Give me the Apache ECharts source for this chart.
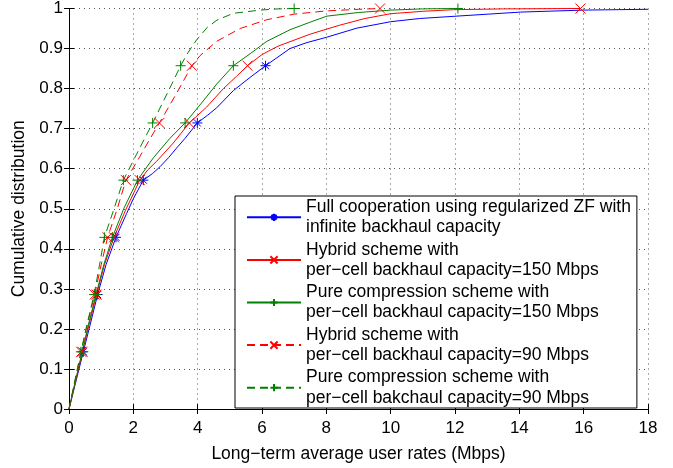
<!DOCTYPE html>
<html>
<head>
<meta charset="utf-8">
<script src="https://cdn.jsdelivr.net/npm/echarts@6/dist/echarts.min.js"></script>
<style>
  html, body { margin: 0; padding: 0; background: #fff; }
  #container { width: 673px; height: 468px; }
</style>
</head>
<body>
<div id="container"></div>
<script>
var seriesNames = [
  'Full cooperation using regularized ZF with\ninfinite backhaul capacity',
  'Hybrid scheme with\nper\u2212cell backhaul capacity=150 Mbps',
  'Pure compression scheme with\nper\u2212cell backhaul capacity=150 Mbps',
  'Hybrid scheme with\nper\u2212cell backhaul capacity=90 Mbps',
  'Pure compression scheme with\nper\u2212cell bakchaul capacity=90 Mbps'
];

// CDF levels where the markers sit
var markLevels = [1 / 7, 2 / 7, 3 / 7, 4 / 7, 5 / 7, 6 / 7, 1];

// curve points [rate, cdf]
var fullCoop = [[0, 0], [0.2, 0.064], [0.65, 0.208], [1.15, 0.36], [1.79, 0.488], [2.0, 0.525], [2.6, 0.588], [2.83, 0.605], [3.1, 0.628], [3.35, 0.652], [3.6, 0.675], [4.3, 0.733], [4.59, 0.752], [5.11, 0.795], [5.63, 0.828], [6.87, 0.9], [7.4, 0.915], [8.0, 0.928], [8.95, 0.951], [10.0, 0.967], [10.9, 0.975], [12.06, 0.981], [14.03, 0.991], [16.0, 0.996], [18, 0.998]];
var fullCoopMarks = [0.445, 0.89, 1.46, 2.31, 3.99, 6.11];

var hybrid150 = [[0, 0], [0.2, 0.068], [0.62, 0.21], [1.1, 0.36], [1.75, 0.495], [2.45, 0.597], [2.73, 0.619], [3.24, 0.664], [4.28, 0.754], [4.8, 0.8], [5.2, 0.83], [6.0, 0.885], [6.5, 0.906], [7.5, 0.936], [8.4, 0.958], [9.2, 0.975], [10.0, 0.987], [11.0, 0.993], [11.95, 0.997], [13.5, 0.999]];
var hybrid150Marks = [0.42, 0.86, 1.4, 2.2, 3.74, 5.55, 15.9];

var compress150 = [[0, 0], [0.2, 0.07], [0.6, 0.21], [1.08, 0.36], [1.7, 0.5], [2.62, 0.627], [3.14, 0.676], [4.1, 0.762], [4.6, 0.812], [5.63, 0.887], [6.15, 0.918], [6.87, 0.947], [7.5, 0.966], [8.02, 0.981], [9.0, 0.99], [10.0, 0.996], [11.0, 0.999]];
var compress150Marks = [0.41, 0.84, 1.35, 2.13, 3.61, 5.11, 12.09];

var hybrid90 = [[0, 0], [0.18, 0.068], [0.58, 0.215], [1.0, 0.36], [1.5, 0.5], [2.2, 0.63], [2.5, 0.672], [3.3, 0.782], [4.07, 0.882], [4.59, 0.918], [5.32, 0.95], [6.15, 0.972], [7.0, 0.986], [8.0, 0.994], [9.0, 0.998]];
var hybrid90Marks = [0.38, 0.8, 1.2, 1.77, 2.81, 3.82, 9.67];

var compress90 = [[0, 0], [0.18, 0.07], [0.57, 0.215], [0.95, 0.36], [1.4, 0.5], [2.1, 0.636], [2.9, 0.763], [3.2, 0.812], [3.7, 0.89], [3.97, 0.922], [4.3, 0.953], [4.6, 0.971], [5.11, 0.988], [5.94, 0.996], [6.5, 0.999]];
var compress90Marks = [0.37, 0.78, 1.1, 1.69, 2.6, 3.47, 7.0];

var STAR = 'path://M0,-1L0,1M-1,0L1,0M-0.7,-0.7L0.7,0.7M-0.7,0.7L0.7,-0.7';
var CROSS = 'path://M-1,-1L1,1M-1,1L1,-1';
var PLUS = 'path://M0,-1L0,1M-1,0L1,0';

function buildData(line, marks) {
  var items = line.map(function (p) { return { value: p, symbol: 'none' }; });
  marks.forEach(function (x, i) { items.push({ value: [x, markLevels[i]] }); });
  items.sort(function (a, b) { return a.value[0] - b.value[0]; });
  return items;
}

function makeSeries(name, line, marks, color, symbol, dashed) {
  return {
    name: name,
    type: 'line',
    data: buildData(line, marks),
    symbol: symbol,
    symbolSize: 10,
    showAllSymbol: true,
    lineStyle: { color: color, width: 1, type: dashed ? [8, 5] : 'solid' },
    itemStyle: { color: color, borderColor: color, borderWidth: 1 },
    emphasis: { disabled: true },
    animation: false
  };
}

var font = 'Liberation Sans, Arial, sans-serif';
var dom = document.getElementById('container');
var myChart = echarts.init(dom, null, { renderer: 'canvas' });

var option = {
  backgroundColor: '#fff',
  textStyle: { fontFamily: font },
  grid: { left: 69, right: 25, top: 8, bottom: 53 },
  legend: {
    orient: 'vertical',
    left: 235,
    top: 196,
    padding: [1, 6, 0, 11],
    itemGap: 2,
    itemWidth: 54,
    itemHeight: 9,
    backgroundColor: '#fff',
    borderColor: '#000',
    borderWidth: 1,
    textStyle: { fontSize: 17.5, lineHeight: 20.3, color: '#000', fontFamily: font },
    data: seriesNames
  },
  xAxis: [{
    type: 'value', min: 0, max: 18, interval: 2,
    name: 'Long\u2212term average user rates (Mbps)',
    nameLocation: 'middle', nameGap: 36,
    nameTextStyle: { fontSize: 17.5, color: '#000', fontFamily: font },
    axisLine: { lineStyle: { color: '#000', width: 1 } },
    axisTick: { inside: true, length: 5, lineStyle: { color: '#000' } },
    axisLabel: { color: '#000', fontSize: 17, margin: 11, fontFamily: font },
    splitLine: { show: true, lineStyle: { color: '#555', type: [1, 4], width: 1 } }
  }, {
    type: 'value', min: 0, max: 18, interval: 2, position: 'top',
    axisLine: { show: true, lineStyle: { color: '#000', width: 1 } },
    axisTick: { show: true, inside: true, length: 5, lineStyle: { color: '#000' } },
    axisLabel: { show: false },
    splitLine: { show: false }
  }],
  yAxis: [{
    type: 'value', min: 0, max: 1, interval: 0.1,
    name: 'Cumulative distribution',
    nameLocation: 'middle', nameGap: 40,
    nameTextStyle: { fontSize: 17.5, color: '#000', fontFamily: font },
    axisLine: { show: true, lineStyle: { color: '#000', width: 1 } },
    axisTick: { show: true, inside: true, length: 5, lineStyle: { color: '#000' } },
    axisLabel: {
      color: '#000', fontSize: 17, margin: 6, fontFamily: font,
      formatter: function (v) { return String(+v.toFixed(1)); }
    },
    splitLine: { show: true, lineStyle: { color: '#555', type: [1, 4], width: 1 } }
  }, {
    type: 'value', min: 0, max: 1, interval: 0.1, position: 'right',
    axisLine: { show: true, lineStyle: { color: '#000', width: 1 } },
    axisTick: { show: true, inside: true, length: 5, lineStyle: { color: '#000' } },
    axisLabel: { show: false },
    splitLine: { show: false }
  }],
  series: [
    makeSeries(seriesNames[0], fullCoop, fullCoopMarks, '#0000ff', STAR, false),
    makeSeries(seriesNames[1], hybrid150, hybrid150Marks, '#ff0000', CROSS, false),
    makeSeries(seriesNames[2], compress150, compress150Marks, '#008000', PLUS, false),
    makeSeries(seriesNames[3], hybrid90, hybrid90Marks, '#ff0000', CROSS, true),
    makeSeries(seriesNames[4], compress90, compress90Marks, '#008000', PLUS, true)
  ]
};

myChart.setOption(option);
window.addEventListener('resize', myChart.resize);
</script>
</body>
</html>
